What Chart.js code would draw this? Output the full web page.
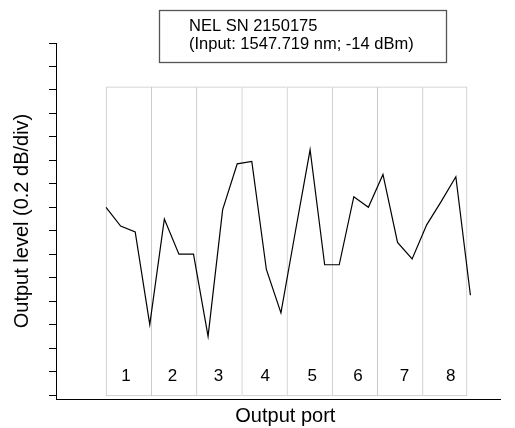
<!DOCTYPE html>
<html><head><meta charset="utf-8">
<script src="https://cdn.jsdelivr.net/npm/chart.js@4.4.1/dist/chart.umd.min.js"></script>
<style>html,body{margin:0;padding:0;background:#fff}canvas{display:block}</style>
</head><body>
<canvas id="c" width="515" height="428"></canvas>
<script>
// ---- data ----
const sampleIndex = [0,1,2,3,4,5,6,7,8,9,10,11,12,13,14,15,16,17,18,19,20,21,22,23,24,25];
const outputLevel = [1.60,1.44,1.39,0.60,1.50,1.20,1.20,0.50,1.58,1.97,1.99,1.07,0.70,1.40,2.09,1.11,1.11,1.69,1.60,1.88,1.30,1.16,1.45,1.65,1.86,0.85];
const portLabels = ['1','2','3','4','5','6','7','8'];
const portCenters = [1.53,4.63,7.73,10.84,13.94,17.04,20.14,23.24];
const portLabelPos = [1.37,4.55,7.71,10.92,14.15,17.28,20.47,23.65];
const portLabelLevel = 0.16;
const portBox = [-0.01, 2.63];
const yTickValues = [0,0.2,0.4,0.6,0.8,1.0,1.2,1.4,1.6,1.8,2.0,2.2,2.4,2.6,2.8,3.0];
const noteLines = ['NEL SN 2150175','(Input: 1547.719 nm; -14 dBm)'];
const xTitle = 'Output port';
const yTitle = 'Output level (0.2 dB/div)';

const FONT = '"Liberation Sans", Arial, Helvetica, sans-serif';

const overlay = {
  id: 'overlay',
  afterDatasetsDraw(chart) {
    const {ctx, scales: {x, y}} = chart;
    ctx.save();
    ctx.fillStyle = '#000';
    ctx.font = '17px ' + FONT;
    ctx.textAlign = 'center';
    ctx.textBaseline = 'middle';
    portLabels.forEach((t, i) => {
      ctx.fillText(t, x.getPixelForValue(portLabelPos[i]), y.getPixelForValue(portLabelLevel));
    });
    // x-axis title, centred under the port boxes
    ctx.font = '20px ' + FONT;
    ctx.fillText(xTitle, x.getPixelForValue(12.3), 416);
    // annotation box
    ctx.fillStyle = '#fff';
    ctx.fillRect(159, 10, 288, 53);
    ctx.strokeStyle = '#555';
    ctx.lineWidth = 1.3;
    ctx.strokeRect(159.5, 10.5, 287, 52);
    ctx.fillStyle = '#000';
    ctx.textAlign = 'left';
    ctx.textBaseline = 'alphabetic';
    ctx.font = '16.5px ' + FONT;
    noteLines.forEach((t, i) => ctx.fillText(t, 189, 31 + i * 17.7));
    ctx.restore();
  }
};

new Chart(document.getElementById('c'), {
  type: 'line',
  data: {
    datasets: [
      {
        type: 'line',
        data: sampleIndex.map((v, i) => ({x: v, y: outputLevel[i]})),
        borderColor: '#000',
        borderWidth: 1.2,
        pointRadius: 0,
        tension: 0,
        fill: false,
        order: 0
      },
      {
        type: 'bar',
        data: portCenters.map(c => ({x: c, y: portBox})),
        backgroundColor: 'rgba(0,0,0,0)',
        borderColor: '#c8c8c8',
        borderWidth: ctx => ({top: 1, bottom: 1, left: 1, right: ctx.dataIndex === portCenters.length - 1 ? 1 : 0}),
        borderSkipped: false,
        inflateAmount: 0,
        barPercentage: 1,
        categoryPercentage: 1,
        order: 1
      }
    ]
  },
  options: {
    responsive: false,
    animation: false,
    devicePixelRatio: 1,
    layout: {padding: {left: 0, top: 43, right: 15, bottom: 0}},
    plugins: {legend: {display: false}, tooltip: {enabled: false}, title: {display: false}},
    scales: {
      x: {
        type: 'linear', min: -3.434, max: 27.03, offset: false,
        afterBuildTicks: s => { s.ticks = portCenters.map(v => ({value: v})); },
        afterFit: s => { s.height = 29; },
        ticks: {display: false},
        grid: {display: false},
        border: {display: true, color: '#000', width: 1},
        title: {display: false}
      },
      y: {
        type: 'linear', min: -0.034, max: 3.0,
        afterBuildTicks: s => { s.ticks = yTickValues.map(v => ({value: v})); },
        afterFit: s => { s.width = 56; },
        ticks: {display: false},
        grid: {display: true, drawOnChartArea: false, drawTicks: true, tickLength: 7, color: '#000', lineWidth: 1},
        border: {display: true, color: '#000', width: 1},
        title: {display: true, text: yTitle, color: '#000', font: {family: FONT, size: 20}, padding: {top: 10, bottom: 15}}
      }
    }
  },
  plugins: [overlay]
});
</script>
</body></html>
